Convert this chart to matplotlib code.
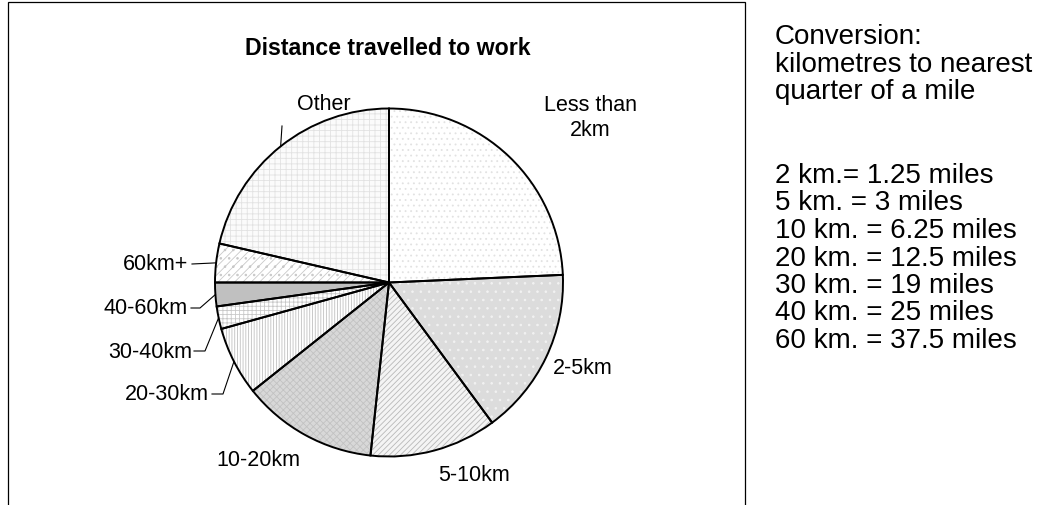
import matplotlib
matplotlib.use("Agg")
import matplotlib.pyplot as plt
from matplotlib.patches import Rectangle
import numpy as np

# ---- data ----
categories = ["Less than\n2km", "2-5km", "5-10km", "10-20km", "20-30km",
              "30-40km", "40-60km", "60km+", "Other"]
shares = [24.3, 15.6, 11.8, 12.6, 6.4, 2.1, 2.2, 3.6, 21.4]
title = "Distance travelled to work"
conv_header = ["Conversion:", "kilometres to nearest", "quarter of a mile"]
conv_lines = ["2 km.= 1.25 miles", "5 km. = 3 miles", "10 km. = 6.25 miles",
              "20 km. = 12.5 miles", "30 km. = 19 miles", "40 km. = 25 miles",
              "60 km. = 37.5 miles"]

# ---- styles ----
faces = ["#ffffff", "#dcdcdc", "#f4f4f4", "#d8d8d8", "#ffffff",
         "#ffffff", "#c0c0c0", "#ffffff", "#fbfbfb"]
hatches = ["...", "..", "//////", "xxxxx", "||||||", "++++", None, "////..", "+++"]
hatch_cols = ["#e2e2e2", "#f2f2f2", "#b8b8b8", "#c2c2c2", "#c0c0c0",
              "#c8c8c8", "#c0c0c0", "#c8c8c8", "#e2e2e2"]

W, H = 1054, 506
plt.rcParams['font.family'] = ['Liberation Sans', 'DejaVu Sans']
plt.rcParams['hatch.linewidth'] = 0.6

fig = plt.figure(figsize=(W / 100, H / 100), dpi=100)
ax = fig.add_axes([0, 0, 1, 1])

def Y(y):
    return H - y

cx, cy, R = 389, Y(283.5), 174

# fill with hatches
wedges, _ = ax.pie(shares, startangle=90, counterclock=False,
                   center=(cx, cy), radius=R, frame=True,
                   wedgeprops=dict(linewidth=0))
for w, fc, h, hc in zip(wedges, faces, hatches, hatch_cols):
    w.set_facecolor(fc)
    w.set_edgecolor(hc)
    if h:
        w.set_hatch(h)
# outlines
ax.pie(shares, startangle=90, counterclock=False, center=(cx, cy), radius=R,
       frame=True, colors=["none"] * len(shares),
       wedgeprops=dict(linewidth=1.4, edgecolor="black", fill=False))

ax.set_xlim(0, W)
ax.set_ylim(0, H)
ax.set_aspect('auto')
ax.axis('off')

# frame
ax.add_patch(Rectangle((8, -20), 737, Y(3) + 20, fill=False,
                       edgecolor="black", linewidth=0.9))

ax.text(388, Y(48), title, fontsize=16.7, fontweight='bold',
        ha='center', va='center')

# wedge mid-angle points on the rim
total = float(sum(shares))
cum = np.cumsum(shares)
mids = 90 - 360 * (cum - np.array(shares) / 2) / total
rim = [(cx + R * np.cos(np.radians(a)), cy + R * np.sin(np.radians(a))) for a in mids]

lab_fs = 15.5
label_pos = {
    0: (590, 118, 'center'),
    1: (583, 368, 'center'),
    2: (474, 476, 'center'),
    3: (258, 461, 'center'),
    4: (167, 395, 'center'),
    5: (150, 352, 'center'),
    6: (146, 309, 'center'),
    7: (156, 265, 'center'),
    8: (324, 104, 'center'),
}
for i, (x, y, ha) in label_pos.items():
    ax.text(x, Y(y), categories[i], fontsize=lab_fs, ha=ha, va='center',
            linespacing=1.25)

# leader lines (text end -> knee -> wedge rim)
leaders = {
    7: (192, 265, 192),
    6: (191, 309, 200),
    5: (194, 352, 205),
    4: (212, 395, 223),
}
for i, (x0, y0, xk) in leaders.items():
    px, py = rim[i]
    ax.plot([x0, xk, px], [Y(y0), Y(y0), py], color='black', lw=0.8)
px, py = rim[8]
ax.plot([282, px], [Y(127), py], color='black', lw=0.8)

# conversion text
conv_fs = 20
for k, s in enumerate(conv_header):
    ax.text(775, Y(37 + 27.6 * k), s, fontsize=conv_fs, ha='left', va='center')
for k, s in enumerate(conv_lines):
    ax.text(775, Y(176 + 27.5 * k), s, fontsize=conv_fs, ha='left', va='center')

fig.savefig("out.png", dpi=100)
